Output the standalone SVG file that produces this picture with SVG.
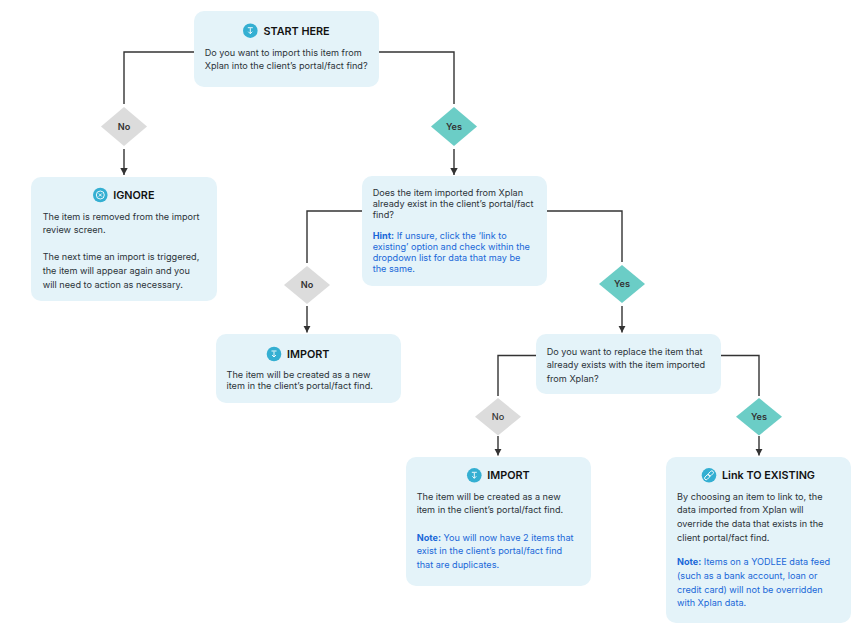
<svg xmlns="http://www.w3.org/2000/svg" width="858" height="632" viewBox="0 0 858 632">
<style>
text{font-family:Inter,"Noto Sans","Liberation Sans",sans-serif;fill:#2b3238}
.b{fill:#e4f3f9}
.t{font-size:9.15px}
.h{font-size:10.8px;font-weight:600;fill:#111}
.hint{fill:#1967d8}
.hb{font-weight:700;fill:#1967d8}
.n{fill:#dcdcdc}
.y{fill:#6bcdc6}
.d{font-size:9.15px;font-weight:600;text-anchor:middle;fill:#333}
.ic{fill:#34afd2}
.ig{fill:none;stroke:#fff;stroke-width:.9}
.c{fill:none;stroke:#333;stroke-width:1.4}
</style>
<defs>
<marker id="a" markerUnits="userSpaceOnUse" markerWidth="8" markerHeight="8" refX="7" refY="4" orient="auto"><path d="M0 .3L7 4L0 7.700Z" fill="#333"/></marker>
<g id="dl"><circle r="7.3" class="ic"/><path class="ig" d="M0-2.500V3M-2 1L0 3L2 1M-2.500-3H2.500"/></g>
</defs>
<g id="connectors">
<path class="c" d="M194 52H124V104"/>
<path class="c" marker-end="url(#a)" d="M124 149V175"/>
<path class="c" d="M379 52H454V104"/>
<path class="c" marker-end="url(#a)" d="M454 149V175"/>
<path class="c" d="M362 211H307V263"/>
<path class="c" marker-end="url(#a)" d="M307 306V332.500"/>
<path class="c" d="M547 211H622V262"/>
<path class="c" marker-end="url(#a)" d="M622 306V332.500"/>
<path class="c" d="M536 355.500H498V396"/>
<path class="c" marker-end="url(#a)" d="M498 436V455.500"/>
<path class="c" d="M721 355.500H759V396"/>
<path class="c" marker-end="url(#a)" d="M759 436V455.500"/>
</g>
<g id="start">
<rect class="b" x="194" y="11" width="185" height="76" rx="10"/>
<use href="#dl" x="250.300" y="30.700"/>
<text class="h" x="263.500" y="34.500">START HERE</text>
<text class="t" x="204.700" y="55.500">Do you want to import this item from</text>
<text class="t" x="204.700" y="69.300">Xplan into the client’s portal/fact find?</text>
</g>
<g id="d-no-1"><path class="n" d="M124 107L147 126.500L124 146L101 126.500Z"/><text class="d" x="124" y="129.800">No</text></g>
<g id="d-yes-1"><path class="y" d="M454 107L477 126.500L454 146L431 126.500Z"/><text class="d" x="454" y="129.800">Yes</text></g>
<g id="ignore">
<rect class="b" x="31" y="177" width="186" height="124" rx="10"/>
<circle cx="100.300" cy="195" r="7.300" class="ic"/><circle cx="100.300" cy="195" r="4" class="ig"/><path class="ig" d="M98.800 193.500L101.800 196.500M101.800 193.500L98.800 196.500"/>
<text class="h" x="113.300" y="198.700">IGNORE</text>
<text class="t" x="42.700" y="219.500">The item is removed from the import</text>
<text class="t" x="42.700" y="233">review screen.</text>
<text class="t" x="42.700" y="260">The next time an import is triggered,</text>
<text class="t" x="42.700" y="274">the item will appear again and you</text>
<text class="t" x="42.700" y="288">will need to action as necessary.</text>
</g>
<g id="exists">
<rect class="b" x="362" y="176" width="185" height="110" rx="10"/>
<text class="t" x="372.700" y="195.700">Does the item imported from Xplan</text>
<text class="t" x="372.700" y="206.800">already exist in the client’s portal/fact</text>
<text class="t" x="372.700" y="217.700">find?</text>
<text class="t hint" x="372.700" y="239"><tspan class="hb">Hint:</tspan> If unsure, click the ‘link to</text>
<text class="t hint" x="372.700" y="250">existing’ option and check within the</text>
<text class="t hint" x="372.700" y="261">dropdown list for data that may be</text>
<text class="t hint" x="372.700" y="272">the same.</text>
</g>
<g id="d-no-2"><path class="n" d="M307 266L330 285L307 304L284 285Z"/><text class="d" x="307" y="288.300">No</text></g>
<g id="d-yes-2"><path class="y" d="M622 265L645 284L622 303L599 284Z"/><text class="d" x="622" y="287.300">Yes</text></g>
<g id="import-1">
<rect class="b" x="216" y="334" width="185" height="69" rx="10"/>
<use href="#dl" x="274" y="354"/>
<text class="h" x="287" y="357.800">IMPORT</text>
<text class="t" x="226.500" y="377.500">The item will be created as a new</text>
<text class="t" x="226.500" y="388.700">item in the client’s portal/fact find.</text>
</g>
<g id="replace">
<rect class="b" x="536" y="334" width="185" height="60" rx="10"/>
<text class="t" x="546.700" y="354.500">Do you want to replace the item that</text>
<text class="t" x="546.700" y="368.200">already exists with the item imported</text>
<text class="t" x="546.700" y="381.800">from Xplan?</text>
</g>
<g id="d-no-3"><path class="n" d="M498 398L521 416.800L498 435.500L475 416.800Z"/><text class="d" x="498" y="420" font-weight="500" style="font-weight:500">No</text></g>
<g id="d-yes-3"><path class="y" d="M759 398L782 416.800L759 435.500L736 416.800Z"/><text class="d" x="759" y="420">Yes</text></g>
<g id="import-2">
<rect class="b" x="406" y="457" width="185" height="129" rx="10"/>
<use href="#dl" x="474.300" y="475.300"/>
<text class="h" x="487.300" y="479">IMPORT</text>
<text class="t" x="416.700" y="499.700">The item will be created as a new</text>
<text class="t" x="416.700" y="513.300">item in the client’s portal/fact find.</text>
<text class="t hint" x="416.700" y="540.500"><tspan class="hb">Note:</tspan> You will now have 2 items that</text>
<text class="t hint" x="416.700" y="554">exist in the client’s portal/fact find</text>
<text class="t hint" x="416.700" y="567.700">that are duplicates.</text>
</g>
<g id="link">
<rect class="b" x="666" y="457" width="185" height="166" rx="10"/>
<circle cx="709" cy="475.300" r="7.300" class="ic"/>
<g transform="rotate(-45 709 475.300)"><rect class="ig" x="703.400" y="473.700" width="6" height="3.200" rx="1.600"/><rect class="ig" x="708.600" y="473.700" width="6" height="3.200" rx="1.600"/></g>
<text class="h" x="722" y="479">Link TO EXISTING</text>
<text class="t" x="677" y="499.700">By choosing an item to link to, the</text>
<text class="t" x="677" y="513.300">data imported from Xplan will</text>
<text class="t" x="677" y="527">override the data that exists in the</text>
<text class="t" x="677" y="540.700">client portal/fact find.</text>
<text class="t hint" x="677" y="565.300"><tspan class="hb">Note:</tspan> Items on a YODLEE data feed</text>
<text class="t hint" x="677" y="579">(such as a bank account, loan or</text>
<text class="t hint" x="677" y="592.700">credit card) will not be overridden</text>
<text class="t hint" x="677" y="606.300">with Xplan data.</text>
</g>
</svg>
